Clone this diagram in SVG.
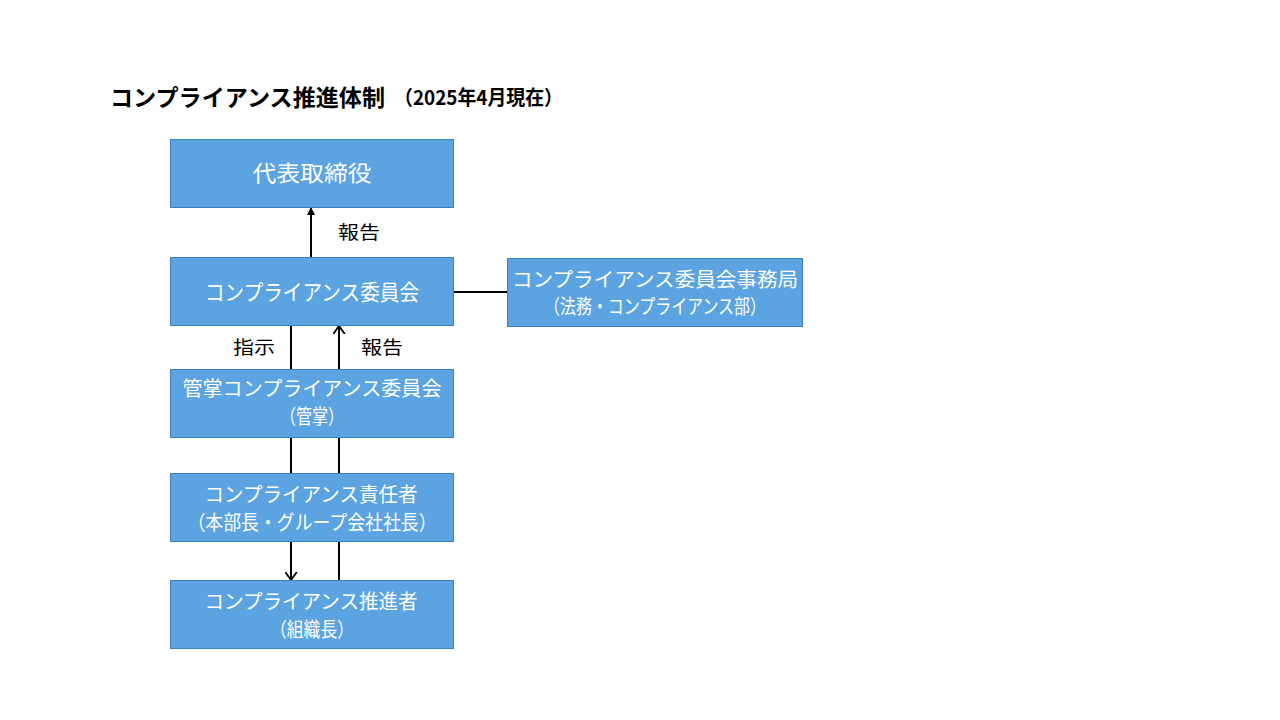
<svg xmlns="http://www.w3.org/2000/svg" width="1280" height="720" viewBox="0 0 1280 720">
<defs>
<style>
.box{fill:#5BA3E1;stroke:#3E7FC1;stroke-width:1}
.bt{font-family:"Noto Sans CJK JP","Noto Sans",sans-serif;font-size:22px;fill:#FFFFFF;text-anchor:middle}
.bt2{font-family:"Noto Sans CJK JP","Noto Sans",sans-serif;font-size:20px;fill:#FFFFFF;text-anchor:middle}
.lb{font-family:"Noto Sans CJK JP","Noto Sans",sans-serif;font-size:18px;fill:#000000}
.ln{stroke:#000000;stroke-width:2;fill:none}
.title{font-family:"Noto Sans CJK JP","Noto Sans",sans-serif;font-weight:700;fill:#000000}
</style>
<marker id="fill" viewBox="0 0 10 10" refX="10" refY="5" markerWidth="8" markerHeight="8" markerUnits="userSpaceOnUse" orient="auto">
<path d="M0,0 L10,5 L0,10 Z" fill="#000000"/>
</marker>
<marker id="open" viewBox="0 0 10 14" refX="9" refY="7" markerWidth="9" markerHeight="13" markerUnits="userSpaceOnUse" orient="auto">
<path d="M0,0.5 L9,7 L0,13.5" fill="none" stroke="#000000" stroke-width="2"/>
</marker>
</defs>
<rect width="1280" height="720" fill="#FFFFFF"/>
<g id="title">
<text x="110" y="106" class="title" font-size="23" textLength="275" lengthAdjust="spacingAndGlyphs">コンプライアンス推進体制</text>
<text x="394" y="105" class="title" font-size="20" textLength="169" lengthAdjust="spacingAndGlyphs">（2025年4月現在）</text>
</g>
<g id="connectors">
<line class="ln" x1="311" y1="257" x2="311" y2="207" marker-end="url(#fill)"/>
<line class="ln" x1="453" y1="292" x2="507" y2="292"/>
<line class="ln" x1="291" y1="326" x2="291" y2="369"/>
<line class="ln" x1="291" y1="437" x2="291" y2="473"/>
<line class="ln" x1="291" y1="542" x2="291" y2="580" marker-end="url(#open)"/>
<line class="ln" x1="339" y1="580" x2="339" y2="542"/>
<line class="ln" x1="339" y1="473" x2="339" y2="437"/>
<line class="ln" x1="339" y1="369" x2="339" y2="326" marker-end="url(#open)"/>
<text x="338" y="239" class="lb" textLength="42" lengthAdjust="spacingAndGlyphs">報告</text>
<text x="233" y="354" class="lb" textLength="42" lengthAdjust="spacingAndGlyphs">指示</text>
<text x="361" y="354" class="lb" textLength="42" lengthAdjust="spacingAndGlyphs">報告</text>
</g>
<g id="ceo">
<rect class="box" x="170.5" y="139.5" width="283" height="68"/>
<text x="312" y="181" class="bt" textLength="119" lengthAdjust="spacingAndGlyphs">代表取締役</text>
</g>
<g id="committee">
<rect class="box" x="170.5" y="257.5" width="283" height="68"/>
<text x="312" y="300" class="bt" textLength="214" lengthAdjust="spacingAndGlyphs">コンプライアンス委員会</text>
</g>
<g id="secretariat">
<rect class="box" x="507.5" y="258.5" width="295" height="68"/>
<text x="655" y="287" class="bt2" textLength="286" lengthAdjust="spacingAndGlyphs">コンプライアンス委員会事務局</text>
<text x="655" y="314" class="bt2" textLength="222" lengthAdjust="spacingAndGlyphs">（法務・コンプライアンス部）</text>
</g>
<g id="division-committee">
<rect class="box" x="170.5" y="369.5" width="283" height="68"/>
<text x="312" y="396" class="bt2" textLength="259" lengthAdjust="spacingAndGlyphs">管掌コンプライアンス委員会</text>
<text x="312" y="424" class="bt2" textLength="64" lengthAdjust="spacingAndGlyphs">（管掌）</text>
</g>
<g id="officer">
<rect class="box" x="170.5" y="473.5" width="283" height="68"/>
<text x="311" y="502" class="bt2" textLength="213" lengthAdjust="spacingAndGlyphs">コンプライアンス責任者</text>
<text x="312" y="530" class="bt2" textLength="249" lengthAdjust="spacingAndGlyphs">（本部長・グループ会社社長）</text>
</g>
<g id="promoter">
<rect class="box" x="170.5" y="580.5" width="283" height="68"/>
<text x="311" y="609" class="bt2" textLength="213" lengthAdjust="spacingAndGlyphs">コンプライアンス推進者</text>
<text x="312" y="637" class="bt2" textLength="84" lengthAdjust="spacingAndGlyphs">（組織長）</text>
</g>
</svg>
